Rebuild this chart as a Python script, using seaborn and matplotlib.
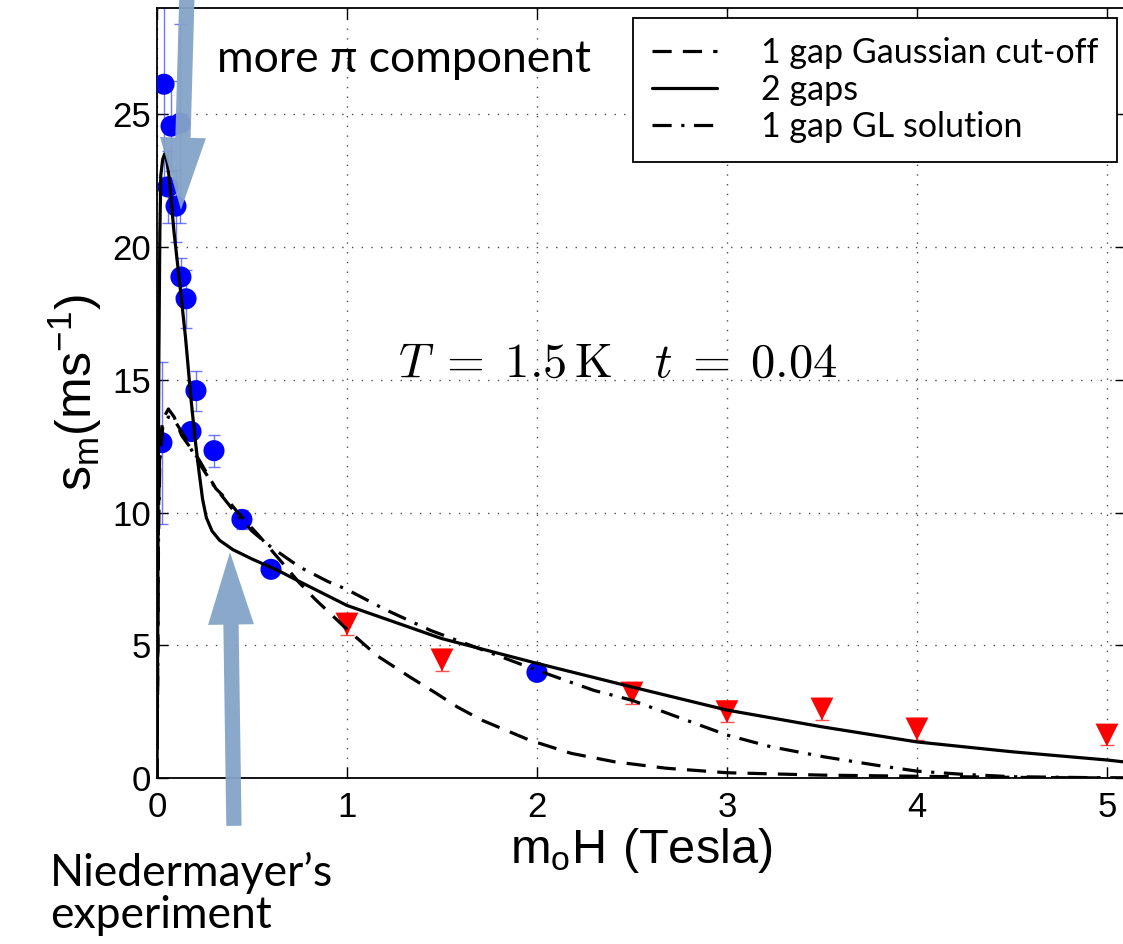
import numpy as np
import pandas as pd
import seaborn as sns
import matplotlib.pyplot as plt

# blue points (low field data) with their error bars
blue_h = [0.026, 0.037, 0.058, 0.074, 0.10, 0.121, 0.126, 0.153, 0.179, 0.205, 0.30, 0.447, 0.60, 2.0]
blue_s = [12.63, 26.13, 22.26, 24.55, 21.54, 24.66, 18.87, 18.05, 13.05, 14.59, 12.33, 9.74, 7.86, 3.98]
blue_err = [3.05, 3.5, 1.35, 1.7, 1.35, 3.75, 0.7, 1.1, 0.0, 0.75, 0.6, 0.35, 0.0, 0.0]

# red triangles (high field data)
red_h = [1.0, 1.5, 2.5, 3.0, 3.5, 4.0, 5.0]
red_s = [5.8, 4.45, 3.2, 2.5, 2.6, 1.85, 1.62]
red_err = [0.4, 0.4, 0.4, 0.4, 0.42, 0.4, 0.38]

# model curves
gauss_h = [0.0, 0.004, 0.008, 0.015, 0.03, 0.06, 0.09, 0.13, 0.22, 0.31, 0.38, 0.43, 0.54, 0.63,
           0.75, 0.83, 1.0, 1.16, 1.33, 1.47, 1.58, 1.71, 1.96, 2.18, 2.41, 2.68, 3.0,
           3.5, 4.2, 4.6, 5.1]
gauss_s = [0.0, 5.0, 10.0, 12.5, 13.5, 13.9, 13.6, 12.9, 12.0, 10.9, 10.4, 9.96, 9.1, 8.35,
           7.35, 6.75, 5.6, 4.6, 3.81, 3.19, 2.68, 2.18, 1.43, 0.93, 0.61, 0.37, 0.2,
           0.11, 0.05, 0.02, 0.0]

two_gap_h = [0.0, 0.003, 0.006, 0.01, 0.015, 0.02, 0.03, 0.04, 0.05, 0.063, 0.089, 0.12, 0.15,
             0.18, 0.2, 0.22, 0.24, 0.26, 0.29, 0.33, 0.4, 0.5, 0.642, 0.75, 1.0, 1.5, 2.0,
             2.5, 3.0, 3.5, 4.0, 4.5, 5.0, 5.1]
two_gap_s = [0.0, 4.0, 10.0, 16.0, 20.5, 22.7, 23.3, 23.5, 23.3, 22.7, 20.6, 18.6, 16.6,
             14.2, 12.8, 11.6, 10.5, 9.8, 9.3, 8.95, 8.6, 8.25, 7.8, 7.4, 6.5, 5.25, 4.32,
             3.43, 2.56, 1.93, 1.36, 0.99, 0.68, 0.6]

gl_h = [0.0, 0.004, 0.008, 0.015, 0.03, 0.06, 0.09, 0.15, 0.2, 0.3, 0.4, 0.5, 0.6, 0.75,
        0.9, 1.0, 1.2, 1.44, 2.0, 2.3, 2.5, 2.74, 3.0, 3.23, 3.51, 3.78, 4.0, 4.22, 4.5, 5.1]
gl_s = [0.0, 4.0, 9.0, 12.0, 13.2, 13.6, 13.5, 12.8, 12.1, 11.0, 10.1, 9.3, 8.7, 7.95,
        7.4, 7.1, 6.35, 5.56, 4.06, 3.3, 2.93, 2.3, 1.62, 1.18, 0.8, 0.49, 0.26, 0.15, 0.05, 0.0]

sns.set_style("ticks")
plt.rcParams['font.family'] = ['Liberation Sans', 'DejaVu Sans']
plt.rcParams['axes.linewidth'] = 1.3
for key in ['text.color', 'axes.labelcolor', 'xtick.color', 'ytick.color', 'axes.edgecolor']:
    plt.rcParams[key] = 'black'

fig = plt.figure(figsize=(11.23, 9.44), dpi=100)
ax = fig.add_axes([0.1398, 0.1758, 0.8628, 0.8157])

# error bars first, markers above, curves on top
ax.errorbar(blue_h, blue_s, yerr=blue_err, fmt='none', ecolor='#3040ff', elinewidth=1,
            capsize=4, alpha=0.7, zorder=2)
ax.errorbar(red_h, red_s, yerr=red_err, fmt='none', ecolor='#ff2020', elinewidth=1.3,
            capsize=5, alpha=0.8, zorder=2)
sns.scatterplot(x=blue_h, y=blue_s, ax=ax, color='#0000ff', s=230, marker='o',
                edgecolor='none', zorder=3)
sns.scatterplot(x=red_h, y=red_s, ax=ax, color='#ff0000', s=270, marker='v',
                edgecolor='none', zorder=3)

curves = pd.concat([
    pd.DataFrame({'h': gauss_h, 's': gauss_s, 'model': '1 gap Gaussian cut-off'}),
    pd.DataFrame({'h': two_gap_h, 's': two_gap_s, 'model': '2 gaps'}),
    pd.DataFrame({'h': gl_h, 's': gl_s, 'model': '1 gap GL solution'}),
])
styles = {'1 gap Gaussian cut-off': (0, (6, 3.5)),
          '2 gaps': '-',
          '1 gap GL solution': (0, (6, 3, 1, 3))}
for name, ls in styles.items():
    d = curves[curves['model'] == name]
    sns.lineplot(data=d, x='h', y='s', ax=ax, color='black', lw=2.3, linestyle=ls,
                 estimator=None, sort=False, label=name, zorder=4)

ax.set_xlim(0, 5.1)
ax.set_ylim(0, 29)
ax.set_xticks(range(6))
ax.set_yticks(range(0, 30, 5))
ax.grid(True, linestyle=(0, (1, 6)), color='0.3', lw=1)
ax.tick_params(direction='in', length=8, width=1, top=True, right=True, labelsize=25)
ax.tick_params(axis='x', pad=9)
ax.tick_params(axis='y', pad=4)

ax.set_xlabel(r'$\mathregular{m_o H\ (Tesla)}$', fontsize=35, labelpad=2)
ax.set_ylabel(r'$\mathregular{s_m (ms^{-1})}$', fontsize=36, labelpad=6)

ax.legend(loc='upper right', bbox_to_anchor=(1117 / 1123, 1 - 18 / 944),
          bbox_transform=fig.transFigure, borderaxespad=0, fancybox=False,
          framealpha=1, edgecolor='black', handlelength=1.9, handletextpad=1.3,
          labelspacing=0.15, borderpad=0.55,
          prop={'family': ['Lato', 'DejaVu Sans'], 'size': 24.5})
ax.get_legend().get_frame().set_linewidth(1.3)

ax.text(1.27, 15.6, r'$T\;=\;1.5\,\mathrm{K}\quad t\;=\;0.04$', fontsize=35,
        math_fontfamily='cm', ha='left', va='center')
fig.text(217 / 1123, 1 - 60 / 944, 'more π component', fontsize=32,
         family=['Lato', 'DejaVu Sans'], ha='left', va='center')
fig.text(50 / 1123, 1 - 894 / 944, 'Niedermayer\u2019s\nexperiment', fontsize=32,
         family=['Lato', 'DejaVu Sans'], ha='left', va='center', linespacing=1.05)

arrow_kw = dict(arrowstyle='simple,head_length=52,head_width=33,tail_width=11',
                mutation_scale=1, shrinkA=0, shrinkB=0, fc='#84a3c8', ec='none', alpha=0.95)
ax.annotate('', xy=(0.126, 21.4), xytext=(0.158, 29.6), arrowprops=arrow_kw,
            annotation_clip=False, zorder=6)
ax.annotate('', xy=(0.384, 8.5), xytext=(0.405, -1.8), arrowprops=arrow_kw,
            annotation_clip=False, zorder=6)

fig.savefig('out.png', dpi=100)
